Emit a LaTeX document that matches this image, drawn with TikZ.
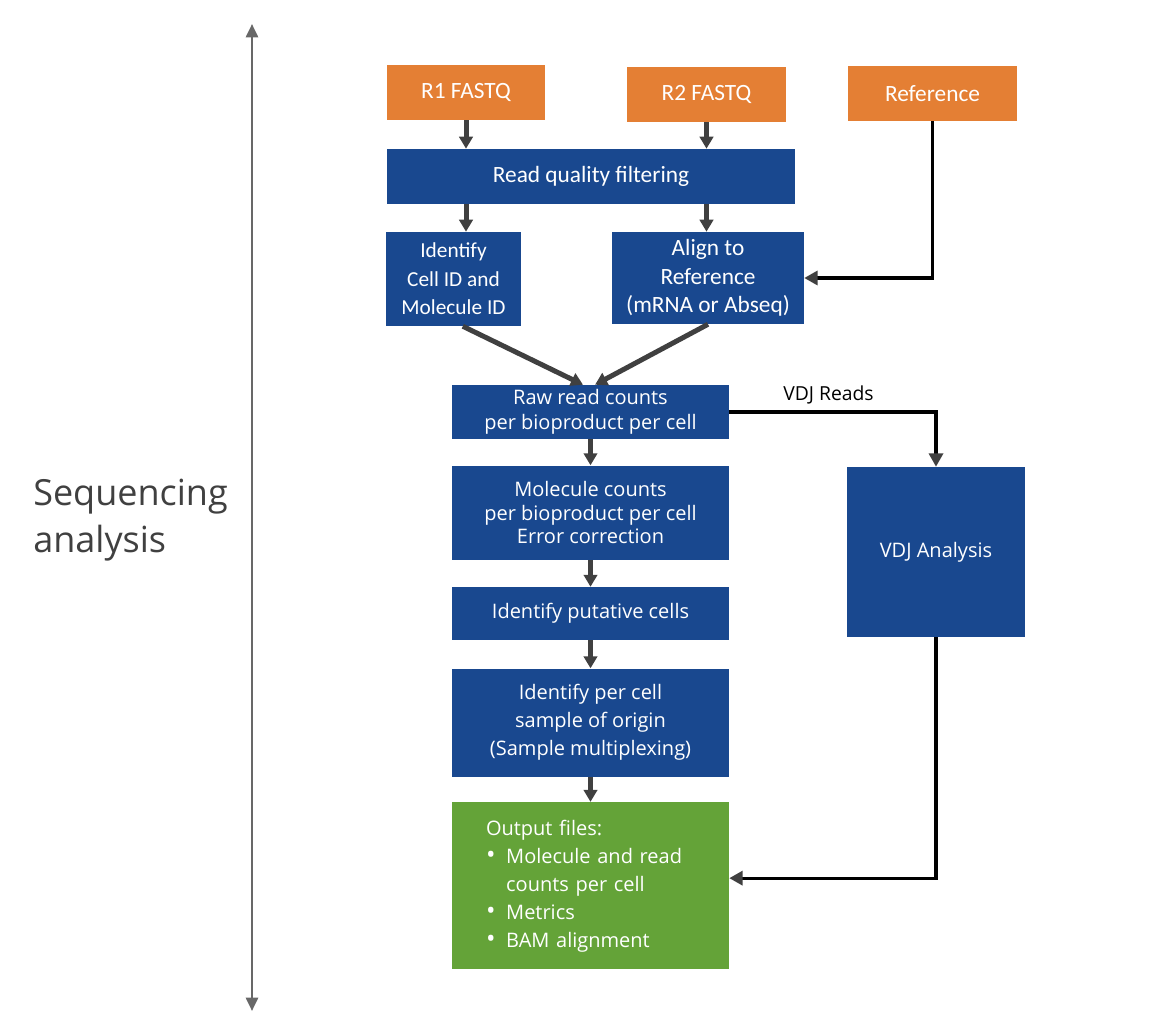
\documentclass[tikz,border=0pt]{standalone}
\usepackage{fontspec}
\setmainfont{Open Sans}
\newfontfamily\calibfont{Carlito}
\usetikzlibrary{positioning, arrows.meta}

\definecolor{inorange}{HTML}{E47F34}
\definecolor{stepblue}{HTML}{19488F}
\definecolor{outgreen}{HTML}{64A338}
\definecolor{arrowgray}{HTML}{404040}
\definecolor{axisgray}{HTML}{686868}

\newcommand{\outbullet}{{\fontsize{19}{21}\selectfont\textbullet}}

\begin{document}
\begin{tikzpicture}[
    x=0.75pt, y=-0.75pt,
    inbox/.style={
        fill=inorange,
        text=white,
        inner sep=0pt,
        minimum height=41.25pt,
        font=\calibfont\fontsize{17.5}{21.5}\selectfont
    },
    box/.style={
        fill=stepblue,
        text=white,
        align=center,
        inner sep=0pt,
        minimum width=207.75pt,
        font=\fontsize{15}{18}\selectfont
    },
    calibbox/.style={
        box,
        font=\calibfont\fontsize{17.5}{21.5}\selectfont
    },
    arrow/.style={
        -{Triangle[width=10pt, length=9pt]},
        line width=3.75pt,
        draw=arrowgray
    },
    feed/.style={
        -{Triangle[width=10.5pt, length=10pt, color=arrowgray]},
        line width=2.4pt,
        draw=black
    },
    axis/.style={
        {Triangle[width=9pt, length=10pt]}-{Triangle[width=9pt, length=10pt]},
        line width=2pt,
        draw=axisgray
    }
]

\useasboundingbox (0,0) rectangle (1150,1034);

\node[inbox, minimum width=118.5pt] (r1) at (466,92.5) {R1 FASTQ};
\node[inbox, minimum width=119.25pt] (r2) at (706.5,94.5) {R2 FASTQ};
\node[inbox, minimum width=126.75pt] (ref) at (932.5,93.5) {Reference};

\node[calibbox, minimum width=306pt, minimum height=41.25pt] (filter)
    at (591,176.5) {Read quality filtering};

\node[calibbox, minimum width=101.25pt, minimum height=70.5pt,
    font=\calibfont\fontsize{16}{21.4}\selectfont] (ident)
    at (453.5,279) {Identify\\Cell ID and\\Molecule ID};

\node[calibbox, minimum width=144pt, minimum height=69pt] (align)
    at (708,278) {Align to\\Reference\\(mRNA or Abseq)};

\node[box, minimum height=40.5pt, font=\fontsize{15}{18.75}\selectfont] (raw)
    at (590.5,412) {Raw read counts\\per bioproduct per cell};

\node[box, below=19.5pt of raw, minimum height=70.5pt,
    font=\fontsize{15}{17.6}\selectfont] (molecule)
    {Molecule counts\\per bioproduct per cell\\Error correction};

\node[box, below=20.25pt of molecule, minimum height=39.75pt] (putative)
    {Identify putative cells};

\node[box, below=21pt of putative, minimum height=81pt,
    font=\fontsize{15}{21}\selectfont] (sample)
    {Identify per cell\\sample of origin\\(Sample multiplexing)};

\node[box, fill=outgreen, below=18.75pt of sample, minimum height=125.25pt,
    align=left, inner xsep=25.5pt, text width=156.75pt,
    font=\fontsize{15}{21}\selectfont] (output)
    {\begin{tabular}{@{}l@{\hspace{8pt}}l@{}}
        \multicolumn{2}{@{}l@{}}{Output files:}\\
        \outbullet & Molecule and read\\
                   & counts per cell\\
        \outbullet & Metrics\\
        \outbullet & BAM alignment
    \end{tabular}};

\node[box, minimum width=133.5pt, minimum height=127.5pt] (vdj)
    at (936,552) {VDJ Analysis};

\node[align=left, anchor=west, inner sep=0pt, text=arrowgray,
    font=\fontsize{27}{35}\selectfont] (seqlabel)
    at (33,520) {Sequencing\\analysis};

\coordinate (axtop) at (252,24);
\coordinate (axbot) at (252,1011);

\draw[axis] (axtop) -- (axbot);

\draw[arrow] (r1.south) -- (r1 |- filter.north);
\draw[arrow] (r2.south) -- (r2 |- filter.north);
\draw[arrow] (r1 |- filter.south) -- (r1 |- ident.north);
\draw[arrow] (r2 |- filter.south) -- (r2 |- align.north);
\draw[feed] (ref.south) |- (align.east);

\draw[arrow] ([xshift=7pt]ident.south) -- ([xshift=-5.6pt]raw.north);
\draw[arrow] (align.south) -- ([xshift=3.4pt]raw.north);

\draw[arrow] (raw.south) -- (molecule.north);
\draw[arrow] (molecule.south) -- (putative.north);
\draw[arrow] (putative.south) -- (sample.north);
\draw[arrow] (sample.south) -- (output.north);

\draw[feed] (raw.east) -| (vdj.north)
    node[pos=0.24, above=1pt, text=black, font=\fontsize{14.5}{17}\selectfont] {VDJ Reads};
\draw[feed] (vdj.south) |- ([yshift=5.6pt]output.east);

\end{tikzpicture}
\end{document}
